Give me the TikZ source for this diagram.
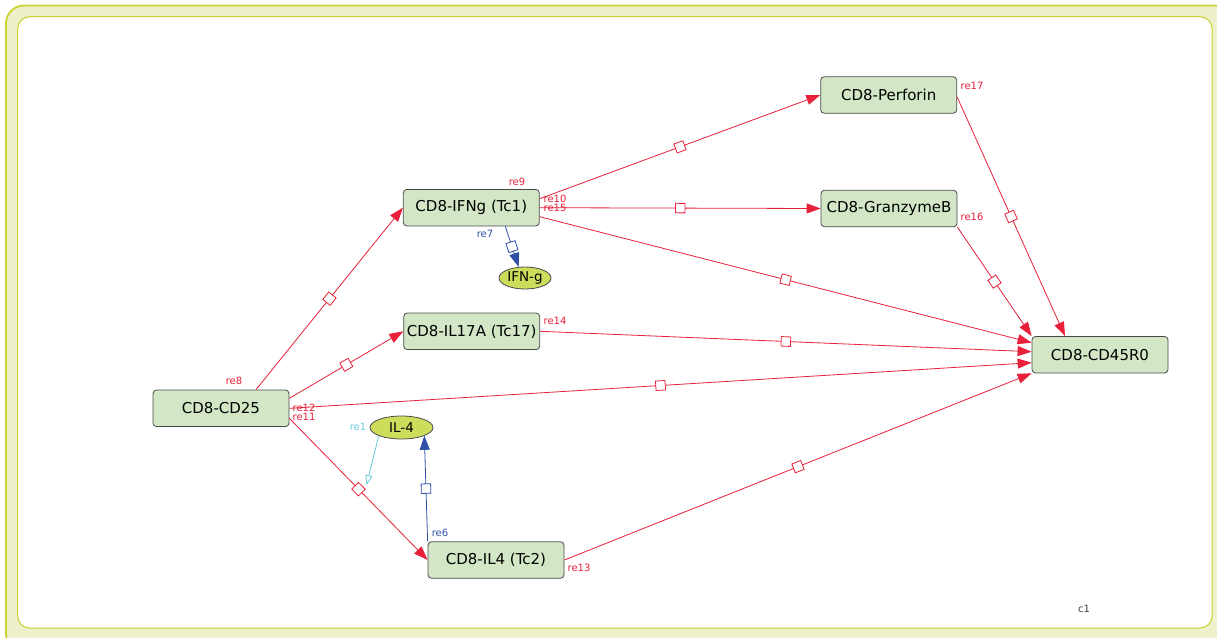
\documentclass[tikz,border=0pt]{standalone}
\usepackage{fontspec}
\setmainfont{DejaVu Sans}
\usetikzlibrary{arrows.meta,shapes.geometric,calc}

\definecolor{framefill}{HTML}{EEF0CA}
\definecolor{framestroke}{HTML}{C9D22F}
\definecolor{boxgreen}{HTML}{D3E7C6}
\definecolor{boxline}{HTML}{4A4A4A}
\definecolor{ionfill}{HTML}{CEDC5C}
\definecolor{rxred}{HTML}{E8203A}
\definecolor{rxblue}{HTML}{3050A8}
\definecolor{rxcyan}{HTML}{6CCBE0}

\tikzset{
  species/.style={draw=boxline, fill=boxgreen, rounded corners=3.5pt, line width=0.8pt,
    minimum width=136pt, minimum height=36.5pt, inner sep=0pt,
    font=\fontsize{15}{17}\selectfont},
  ion/.style={ellipse, draw=boxline, fill=ionfill, line width=0.8pt, inner sep=0pt,
    font=\fontsize{13.5}{15}\selectfont},
  rx/.style={draw=rxred, line width=0.8pt, -{Triangle[length=14pt,width=10pt]}},
  rxb/.style={draw=rxblue, line width=0.8pt, -{Triangle[length=14pt,width=10pt]}},
  boxmark/.style={draw, fill=white, sloped, pos=0.5, minimum size=9.5pt,
    inner sep=0pt, line width=0.8pt},
  lbl/.style={font=\fontsize{10}{11}\selectfont, inner sep=0pt},
}

\begin{document}
\begin{tikzpicture}[x=1pt,y=-1pt]
\useasboundingbox (0,0) rectangle (1217,637);
\clip (0,0) rectangle (1217,637);

% compartment frame
\draw[fill=framefill, draw=framestroke, line width=1.8pt, rounded corners=18pt]
  (6,5.5) rectangle (1232,652);
\draw[fill=white, draw=framestroke, line width=1pt, rounded corners=12pt]
  (17.7,16.7) rectangle (1212,628);
\node[lbl, text=black!75] (c1) at (1084,609) {c1};

% species
\node[species] (perf) at (888.7,95) {CD8-Perforin};
\node[species] (ifng) at (471.3,207.7) {CD8-IFNg (Tc1)};
\node[species] (gzmb) at (889,208.5) {CD8-GranzymeB};
\node[species] (il17) at (471.7,331.3) {CD8-IL17A (Tc17)};
\node[species] (cd45) at (1100,354.7) {CD8-CD45R0};
\node[species] (cd25) at (221,408.3) {CD8-CD25};
\node[species] (tc2) at (496,560) {CD8-IL4 (Tc2)};
\node[ion, minimum width=52pt, minimum height=22pt] (ifnion) at (525,278) {IFN-g};
\node[ion, minimum width=63pt, minimum height=23pt] (il4ion) at (401.5,427.5) {IL-4};

% reactions
\draw[rx] ($(cd25.north)+(35,0)$) -- node[boxmark] (m8) {} (ifng.west);
\draw[rx] ($(ifng.east)+(0,-9)$) -- node[boxmark] (m9) {} (perf.west);
\draw[rx] (ifng.east) -- node[boxmark] (m10) {} (gzmb.west);
\draw[rx] ($(ifng.east)+(0,9)$) -- node[boxmark] (m15) {} ($(cd45.west)+(0,-12)$);
\draw[rx] (il17.east) -- node[boxmark] (m14) {} ($(cd45.west)+(0,-3)$);
\draw[rx] ($(cd25.east)+(0,-10)$) -- node[boxmark] (m25) {} (il17.west);
\draw[rx] (cd25.east) -- node[boxmark] (m12) {} ($(cd45.west)+(0,8)$);
\draw[rx] ($(cd25.east)+(0,10)$) -- node[boxmark] (m11) {} (tc2.west);
\draw[rx] (tc2.east) -- node[boxmark] (m13) {} (cd45.south west);
\draw[rx] (gzmb.south east) -- node[boxmark] (m16) {} (cd45.north west);
\draw[rx] ($(perf.east)+(0,2)$) -- node[boxmark] (m17) {} ($(cd45.north)+(-35,0)$);
\draw[rxb] ($(ifng.south)+(34,0)$) -- node[boxmark] (m7) {} (ifnion.120);
\draw[rxb] (tc2.north west) -- node[boxmark] (m6) {} (il4ion.-20);
\coordinate (m1end) at ($(m11.center)+(8,-4)$);
\draw[draw=rxcyan, line width=0.8pt, -{Triangle[open,length=10pt,width=7pt]}]
  (il4ion.-160) -- (m1end);

% reaction labels
\node[lbl, text=rxred] (l17) at (972,86) {re17};
\node[lbl, text=rxred] (l16) at (972,217) {re16};
\node[lbl, text=rxred] (l9) at (517,182) {re9};
\node[lbl, text=rxred] (l10) at (555,199) {re10};
\node[lbl, text=rxred] (l15) at (555,208) {re15};
\node[lbl, text=rxblue] (l7) at (485,234) {re7};
\node[lbl, text=rxred] (l14) at (555,321) {re14};
\node[lbl, text=rxred] (l8) at (234,381) {re8};
\node[lbl, text=rxred] (l12) at (304,408) {re12};
\node[lbl, text=rxred] (l11) at (304,417) {re11};
\node[lbl, text=rxcyan] (l1) at (358,427) {re1};
\node[lbl, text=rxblue] (l6) at (440,533) {re6};
\node[lbl, text=rxred] (l13) at (579,568) {re13};
\end{tikzpicture}
\end{document}
